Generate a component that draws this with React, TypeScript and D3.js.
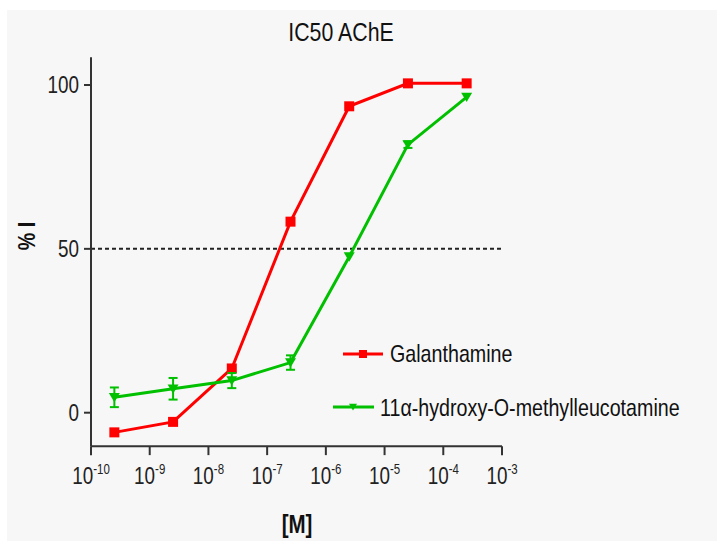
import React from "react";
import * as d3 from "d3";

// concentrations [M] and % inhibition
const concentrations = [2.5e-10, 2.5e-9, 2.5e-8, 2.5e-7, 2.5e-6, 2.5e-5, 2.5e-4];
const galanthamine = [-6, -2.8, 13.5, 58.3, 93.5, 100.5, 100.5];
const leucotamine = [4.7, 7.3, 9.8, 15.3, 47.6, 81.8, 96.3];
const leucotamineErr = [3, 3.3, 2.3, 2.2, 0, 1, 0];
const xTickExps = [-10, -9, -8, -7, -6, -5, -4, -3];
const yTicks = [0, 50, 100];
const seriesNames = ["Galanthamine", "11\u03b1-hydroxy-O-methylleucotamine"];

const FONT = "'Liberation Sans', Arial, sans-serif";
const RED = "#ff0000";
const GREEN = "#00c000";
const AXIS = "#333";
const SQUEEZE = 0.82; // the reference uses a condensed face

// condensed text: squeeze horizontally around its anchor point
const NText = ({ x, y, children, rotate = 0, ...rest }: any) => (
  <g transform={`translate(${x},${y}) rotate(${rotate}) scale(${SQUEEZE},1)`}>
    <text x={0} y={0} {...rest}>
      {children}
    </text>
  </g>
);

const App = () => {
  const width = 717;
  const height = 541;

  // scales
  const x = d3.scaleLog().domain([1e-10, 1e-3]).range([91, 502]);
  const y = d3.scaleLinear().domain([0, 100]).range([412.7, 85]);
  const yBottom = y(-10.2);
  const yTop = y(108.5);

  const line = d3
    .line<number>()
    .x((_, i) => x(concentrations[i]))
    .y((d) => y(d));

  const triangle = (cx: number, cy: number, s: number) =>
    `M${cx - s},${cy - s * 0.8}L${cx + s},${cy - s * 0.8}L${cx},${cy + s * 0.9}Z`;

  return (
    <svg
      width={width}
      height={height}
      style={{ position: "absolute", left: 0, top: 0, fontFamily: FONT }}
    >
      <rect x={0} y={0} width={width} height={height} fill="#fff" />
      <rect x={7} y={10} width={width - 7} height={height - 10} fill="#f7f7f7" />

      {/* title */}
      <NText x={341} y={41} textAnchor="middle" fontSize={26} fill="#111">
        IC50 AChE
      </NText>

      {/* 50% reference line */}
      <line
        x1={x(1e-10)}
        x2={x(1e-3)}
        y1={y(50)}
        y2={y(50)}
        stroke="#222"
        strokeWidth={2}
        strokeDasharray="4,3"
      />

      {/* y axis */}
      <line x1={x(1e-10)} x2={x(1e-10)} y1={yTop} y2={yBottom} stroke={AXIS} strokeWidth={2} />
      {yTicks.map((t) => (
        <g key={t}>
          <line x1={x(1e-10) - 7} x2={x(1e-10)} y1={y(t)} y2={y(t)} stroke={AXIS} strokeWidth={2} />
          <NText x={79} y={y(t) + 8} textAnchor="end" fontSize={23} fill="#222">
            {t}
          </NText>
        </g>
      ))}

      {/* x axis */}
      <line x1={x(1e-10)} x2={x(1e-3)} y1={yBottom} y2={yBottom} stroke={AXIS} strokeWidth={2} />
      {xTickExps.map((e) => (
        <g key={e}>
          <line
            x1={x(Math.pow(10, e))}
            x2={x(Math.pow(10, e))}
            y1={yBottom}
            y2={yBottom + 9}
            stroke={AXIS}
            strokeWidth={2}
          />
          <NText x={x(Math.pow(10, e))} y={484} textAnchor="middle" fontSize={23} fill="#222">
            10
            <tspan dy={-10} fontSize={14}>
              {e}
            </tspan>
          </NText>
        </g>
      ))}

      {/* axis titles */}
      <NText x={297} y={533} textAnchor="middle" fontSize={25} fontWeight="bold" fill="#111">
        [M]
      </NText>
      <NText x={35} y={236} rotate={-90} textAnchor="middle" fontSize={24} fontWeight="bold" fill="#111">
        % I
      </NText>

      {/* galanthamine */}
      <path d={line(galanthamine) || ""} fill="none" stroke={RED} strokeWidth={3} />
      {galanthamine.map((v, i) => (
        <rect key={i} x={x(concentrations[i]) - 5} y={y(v) - 5} width={10} height={10} fill={RED} />
      ))}

      {/* leucotamine */}
      <path d={line(leucotamine) || ""} fill="none" stroke={GREEN} strokeWidth={3} />
      {leucotamine.map((v, i) => {
        const cx = x(concentrations[i]);
        const e = leucotamineErr[i];
        return (
          <g key={i}>
            {e > 0 && (
              <g stroke={GREEN} strokeWidth={2}>
                <line x1={cx} x2={cx} y1={y(v - e)} y2={y(v + e)} />
                <line x1={cx - 4.5} x2={cx + 4.5} y1={y(v - e)} y2={y(v - e)} />
                <line x1={cx - 4.5} x2={cx + 4.5} y1={y(v + e)} y2={y(v + e)} />
              </g>
            )}
            <path d={triangle(cx, y(v), 5.5)} fill={GREEN} />
          </g>
        );
      })}

      {/* legend */}
      <g>
        <line x1={343} x2={383} y1={354} y2={354} stroke={RED} strokeWidth={3} />
        <rect x={359} y={350} width={8} height={8} fill={RED} />
        <NText x={390} y={362} fontSize={24} fill="#111">
          {seriesNames[0]}
        </NText>
        <line x1={333} x2={374} y1={407} y2={407} stroke={GREEN} strokeWidth={3} />
        <path d={triangle(353, 407, 4)} fill={GREEN} />
        <NText x={380} y={416} fontSize={24} fill="#111">
          {seriesNames[1]}
        </NText>
      </g>
    </svg>
  );
};

export default App;
